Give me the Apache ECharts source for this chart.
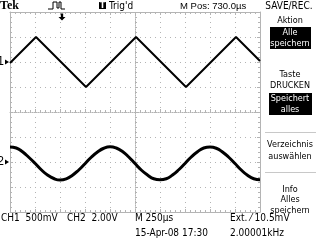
<!DOCTYPE html>
<html><head><meta charset="utf-8">
<script src="https://cdn.jsdelivr.net/npm/echarts@6/dist/echarts.min.js"></script>
<style>html,body{margin:0;padding:0;background:#fff}#c{width:320px;height:240px}</style>
</head><body><div id="c"></div>
<script>
// ---- data (time in µs from left screen edge, volts) ----
const triTime = [0, 260, 760, 1260, 1760, 2260, 2500];
const triVolt = [-0.02, 0.5, -0.5, 0.5, -0.5, 0.5, 0.02];
const sineTime = [0, 62.5, 125, 187.5, 250, 312.5, 375, 437.5, 500, 562.5, 625, 687.5, 750, 812.5, 875, 937.5,
  1000, 1062.5, 1125, 1187.5, 1250, 1312.5, 1375, 1437.5, 1500, 1562.5, 1625, 1687.5, 1750, 1812.5, 1875, 1937.5,
  2000, 2062.5, 2125, 2187.5, 2250, 2312.5, 2375, 2437.5, 2500];
const sineVolt = [1.20, 1.12, 0.82, 0.38, -0.10, -0.62, -1.04, -1.32, -1.44, -1.35, -1.06, -0.64, -0.14, 0.38, 0.80, 1.10,
  1.22, 1.12, 0.84, 0.40, -0.12, -0.64, -1.04, -1.34, -1.42, -1.34, -1.04, -0.62, -0.12, 0.40, 0.82, 1.12,
  1.20, 1.10, 0.80, 0.38, -0.12, -0.64, -1.06, -1.34, -1.42];
const ch1Scale = 0.5, ch1Pos = 2;      // V/div, div
const ch2Scale = 2.0, ch2Pos = -2;
const timeCenter = 1250;               // µs, screen centre
const triggerTime = 520;               // µs from left edge
const bottomLine1 = ['CH1  500mV', 'CH2  2.00V', 'M 250µs', 'Ext. ⁄ 10.5mV'];
const bottomLine2 = ['15-Apr-08 17:30', '2.00001kHz'];

const F = '10px "Liberation Sans Narrow", "DejaVu Sans Condensed", sans-serif';
const FM = '9px "Liberation Sans Narrow", "DejaVu Sans Condensed", sans-serif';
const G = '#b4b4b4';

const ch1 = triTime.map((t, i) => [t - timeCenter, triVolt[i] / ch1Scale + ch1Pos]);
const ch2 = sineTime.map((t, i) => [t - timeCenter, sineVolt[i] / ch2Scale + ch2Pos]);

function xAx(pos, onZero, split) {
  return {type: 'value', min: -1250, max: 1250, interval: 250, position: pos,
    axisLine: {show: true, onZero: onZero, onZeroAxisIndex: 0, lineStyle: {color: G, width: 1, type: onZero ? [1, 1] : 'solid'}},
    axisTick: {show: true, inside: true, length: 3, lineStyle: {color: G}},
    minorTick: {show: true, splitNumber: 5, length: 2, lineStyle: {color: G}},
    axisLabel: {show: false},
    splitLine: {show: split, lineStyle: {color: G, type: [1, 4], width: 1}}};
}
function yAx(pos, onZero, split) {
  return {type: 'value', min: -4, max: 4, interval: 1, position: pos,
    axisLine: {show: true, onZero: onZero, onZeroAxisIndex: 0, lineStyle: {color: G, width: 1, type: onZero ? [1, 1] : 'solid'}},
    axisTick: {show: true, inside: true, length: 3, lineStyle: {color: G}},
    minorTick: {show: true, splitNumber: 5, length: 2, lineStyle: {color: G}},
    axisLabel: {show: false},
    splitLine: {show: split, lineStyle: {color: G, type: [1, 4], width: 1}}};
}

const txt = (text, x, y, opt) => ({type: 'text', z: 10, style: Object.assign({text, x, y, font: F, fill: '#000', align: 'left', verticalAlign: 'middle'}, opt || {})});
const mtxt = (text, y, opt) => txt(text, 290, y, Object.assign({align: 'center', font: FM}, opt || {}));

const graphic = [
  txt('Tek', 0, 6, {font: 'bold 12px "Liberation Serif", serif'}),
  {type: 'polyline', shape: {points: [[48, 9], [53, 9], [53, 2], [57, 2], [57, 8], [59, 8], [59, 2], [61, 2], [61, 9], [65, 9]]}, style: {stroke: '#000', lineWidth: 1, fill: null}},
  {type: 'rect', shape: {x: 99, y: 2, width: 7, height: 7}, style: {fill: '#000'}},
  txt('T', 102.5, 6, {fill: '#fff', align: 'center', font: 'bold 8px "DejaVu Sans", sans-serif'}),
  txt("Trig'd", 109, 6),
  txt('M Pos: 730.0µs', 180, 6, {font: '9.5px "Liberation Sans Narrow", sans-serif'}),
  txt('SAVE/REC.', 289, 6, {align: 'center'}),
  // right menu
  mtxt('Aktion', 21),
  {type: 'rect', shape: {x: 270, y: 27, width: 41, height: 22}, style: {fill: '#000'}},
  mtxt('Alle', 33, {fill: '#fff'}),
  mtxt('speichern', 44, {fill: '#fff'}),
  mtxt('Taste', 75),
  mtxt('DRUCKEN', 86),
  {type: 'rect', shape: {x: 269, y: 93, width: 43, height: 22}, style: {fill: '#000'}},
  mtxt('Speichert', 99, {fill: '#fff'}),
  mtxt('alles', 110, {fill: '#fff'}),
  {type: 'line', shape: {x1: 265, y1: 132.5, x2: 316, y2: 132.5}, style: {stroke: '#c8c8c8', lineWidth: 1}},
  mtxt('Verzeichnis', 145),
  mtxt('auswählen', 157),
  {type: 'line', shape: {x1: 265, y1: 172.5, x2: 316, y2: 172.5}, style: {stroke: '#c8c8c8', lineWidth: 1}},
  mtxt('Info', 190),
  mtxt('Alles', 200),
  mtxt('speichern', 211),
  // bottom
  txt(bottomLine1[0], 1, 218),
  txt(bottomLine1[1], 67, 218),
  txt(bottomLine1[2], 135, 218),
  txt(bottomLine1[3], 230, 218),
  txt(bottomLine2[0], 135, 233),
  txt(bottomLine2[1], 230, 233)
];

const chart = echarts.init(document.getElementById('c'), null, {renderer: 'canvas'});
chart.setOption({
  animation: false,
  backgroundColor: '#fff',
  grid: {left: 10, top: 12, width: 250, height: 200, show: false},
  xAxis: [xAx('bottom', true, true), xAx('top', false, false), xAx('bottom', false, false)],
  yAxis: [yAx('left', true, true), yAx('left', false, false), yAx('right', false, false)],
  graphic: graphic,
  series: [
    {type: 'line', data: ch1, xAxisIndex: 0, yAxisIndex: 0, showSymbol: false, symbol: 'none',
      lineStyle: {color: '#000', width: 2}, z: 5,
      markPoint: {silent: true, data: [
        {coord: [-1250, ch1Pos], symbol: 'triangle', symbolRotate: -90, symbolSize: [5, 4], symbolOffset: [-3, 0],
          itemStyle: {color: '#000'}, label: {show: true, formatter: '1', position: 'left', distance: 1, color: '#000', font: F}},
        {coord: [triggerTime - timeCenter, 4], symbol: 'path://M2,0 L4,0 L4,3 L6,3 L3,6 L0,3 L2,3 Z', symbolSize: [7, 7], symbolOffset: [0, 5],
          itemStyle: {color: '#000'}, label: {show: false}}
      ]}},
    {type: 'line', data: ch2, xAxisIndex: 0, yAxisIndex: 0, showSymbol: false, symbol: 'none', smooth: true,
      lineStyle: {color: '#000', width: 3}, z: 5,
      markPoint: {silent: true, data: [
        {coord: [-1250, ch2Pos], symbol: 'triangle', symbolRotate: -90, symbolSize: [5, 4], symbolOffset: [-3, 0],
          itemStyle: {color: '#000'}, label: {show: true, formatter: '2', position: 'left', distance: 1, color: '#000', font: F}}
      ]}}
  ]
});
</script></body></html>
